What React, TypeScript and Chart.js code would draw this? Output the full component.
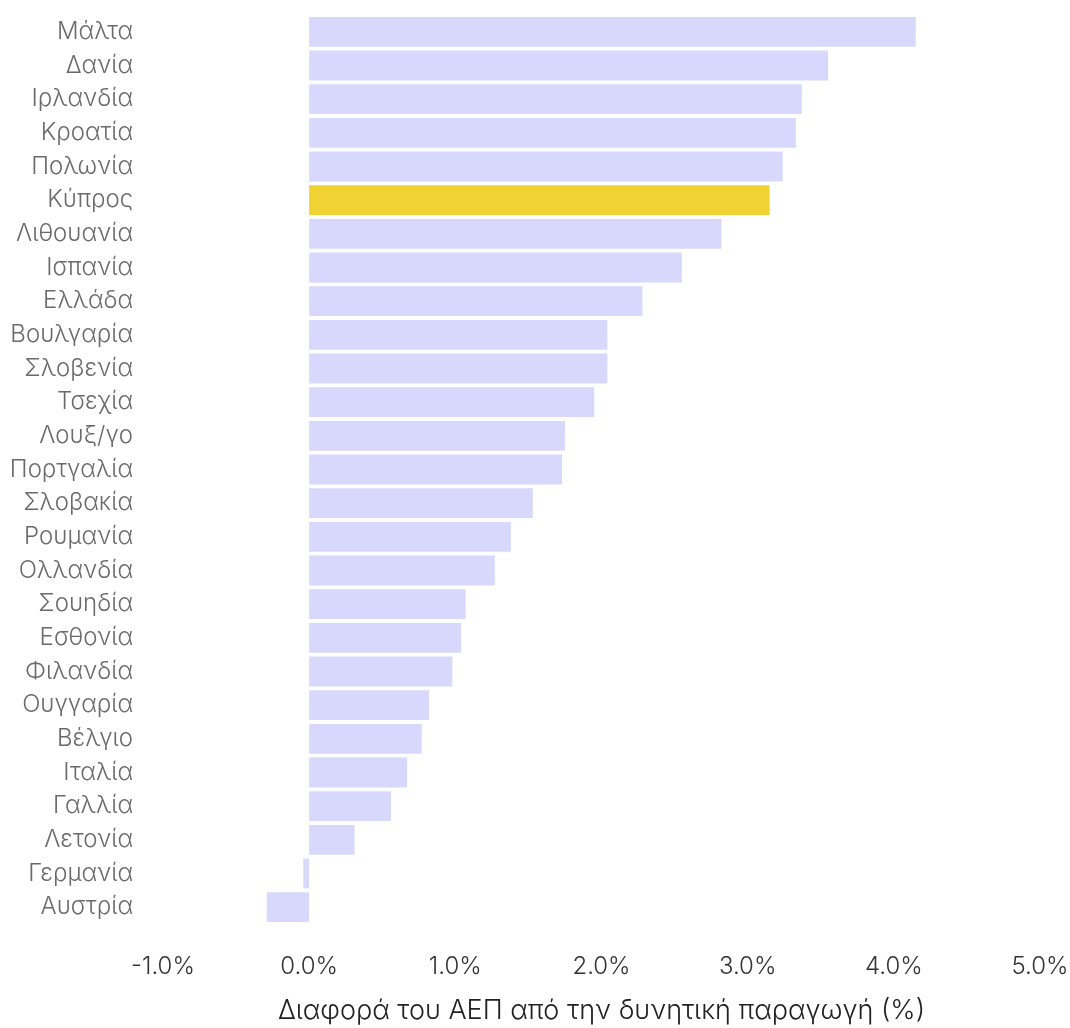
import React, { useEffect, useRef } from "react";
import { Chart, registerables } from "chart.js";

Chart.register(...registerables);

const countries = [
  "Μάλτα", "Δανία", "Ιρλανδία", "Κροατία", "Πολωνία", "Κύπρος", "Λιθουανία",
  "Ισπανία", "Ελλάδα", "Βουλγαρία", "Σλοβενία", "Τσεχία", "Λουξ/γο", "Πορτγαλία",
  "Σλοβακία", "Ρουμανία", "Ολλανδία", "Σουηδία", "Εσθονία", "Φιλανδία", "Ουγγαρία",
  "Βέλγιο", "Ιταλία", "Γαλλία", "Λετονία", "Γερμανία", "Αυστρία",
];

const gapValues = [
  4.15, 3.55, 3.37, 3.33, 3.24, 3.15, 2.82,
  2.55, 2.28, 2.04, 2.04, 1.95, 1.75, 1.73,
  1.53, 1.38, 1.27, 1.07, 1.04, 0.98, 0.82,
  0.77, 0.67, 0.56, 0.31, -0.04, -0.29,
];

const highlighted = "Κύπρος";
const axisTitle = "Διαφορά του ΑΕΠ από την δυνητική παραγωγή (%)";
const xMin = -1;
const xMax = 5;

const FONT = "Inter, 'Noto Sans', sans-serif";

const zeroPadding = (scale: any) => {
  scale.paddingTop = 0;
  scale.paddingBottom = 0;
  scale.paddingLeft = 0;
  scale.paddingRight = 0;
};

export default function App() {
  const ref = useRef<HTMLCanvasElement | null>(null);

  useEffect(() => {
    document.body.style.margin = "0";
    const ctx = ref.current;
    if (!ctx) return;
    const colors = countries.map((c) => (c === highlighted ? "#f0d232" : "#d8d8fd"));
    const chart = new Chart(ctx, {
      type: "bar",
      data: {
        labels: countries,
        datasets: [
          {
            data: gapValues,
            backgroundColor: colors,
            hoverBackgroundColor: colors,
            borderWidth: 0,
            categoryPercentage: 0.885,
            barPercentage: 1,
          },
        ],
      },
      options: {
        indexAxis: "y",
        animation: false,
        responsive: false,
        maintainAspectRatio: false,
        layout: { padding: { top: 15, right: 30, left: 0, bottom: 0 } },
        plugins: {
          legend: { display: false },
          tooltip: { enabled: false },
        },
        scales: {
          x: {
            min: xMin,
            max: xMax,
            grid: { display: false },
            border: { display: false },
            ticks: {
              stepSize: 1,
              padding: 20,
              color: "#333333",
              font: { family: FONT, size: 24, weight: 300 },
              maxRotation: 0,
              callback: (v: any) => Number(v).toFixed(1) + "%",
            },
            title: {
              display: true,
              text: axisTitle,
              color: "#222222",
              font: { family: FONT, size: 27, weight: 300 },
              padding: { top: 0, bottom: 1 },
            },
            afterFit: (scale: any) => {
              scale.height = 104;
              zeroPadding(scale);
            },
          },
          y: {
            grid: { display: false },
            border: { display: false },
            ticks: {
              padding: 22,
              color: "#6a6a6a",
              font: { family: FONT, size: 24, weight: 300 },
              autoSkip: false,
            },
            afterFit: (scale: any) => {
              scale.width = 163;
              zeroPadding(scale);
            },
          },
        },
      },
    });
    return () => chart.destroy();
  }, []);

  return (
    <div style={{ position: "absolute", left: 0, top: 0, width: 1070, height: 1028 }}>
      <canvas ref={ref} width={1070} height={1028} style={{ width: 1070, height: 1028 }} />
    </div>
  );
}
